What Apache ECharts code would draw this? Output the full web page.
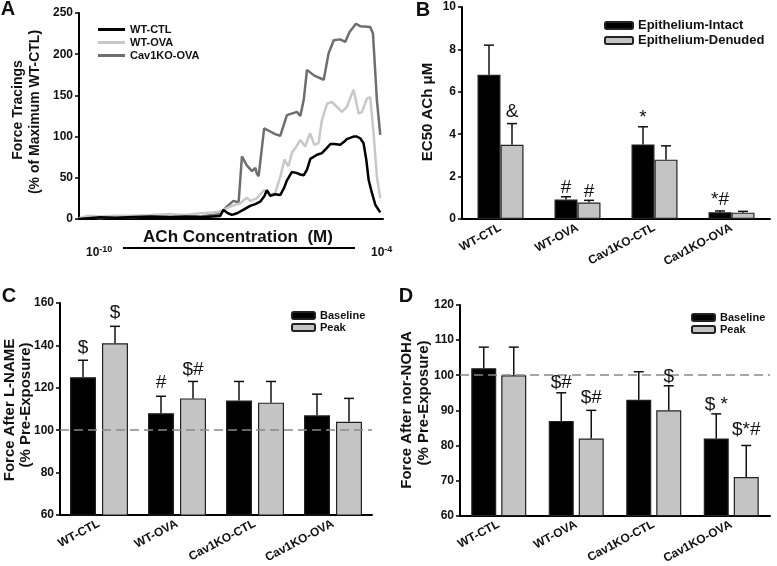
<!DOCTYPE html>
<html>
<head>
<meta charset="utf-8">
<script src="https://cdn.jsdelivr.net/npm/echarts@6/dist/echarts.min.js"></script>
<style>
  html, body { margin: 0; padding: 0; background: #fff; }
  #chart { width: 777px; height: 566px; }
</style>
</head>
<body>
<div id="chart"></div>
<script>
// panel A traces, x is position along the recording (0-100), y in % of max WT-CTL
const wtCtlX = [0, 3, 7, 12, 18, 24, 30, 35, 40, 44, 46.4, 47.5, 49, 50.3, 52, 54, 56.3, 58, 59.6, 61, 61.8, 62.9, 64.5, 66.2, 67.5, 68.4, 70, 71.5, 72.8, 73.9, 75, 76.1, 78.3, 79.9, 81.5, 82.7, 84, 85.9, 87, 88.1, 90.3, 91.4, 92.5, 93.6, 94.5, 95.3, 96.4, 97.5, 99.1];
const wtCtlY = [0, 1, 2, 1.5, 2.5, 3, 2, 3, 2, 3, 3.5, 11, 7, 5, 7, 11, 16, 18, 21, 28, 35, 28, 30, 29, 38, 47, 57, 56, 54, 53, 60, 73, 78, 80, 86, 91, 91, 90, 93, 97, 100, 100, 98, 92, 72, 47, 31, 17, 8];
const wtOvaX = [0, 3, 7, 12, 18, 24, 30, 35, 40, 44, 46.4, 47.5, 50.3, 53, 55.2, 56.3, 58.5, 59.6, 60.9, 62.9, 64.5, 66.2, 67.6, 68.9, 70, 71.5, 72.8, 74.4, 76, 77.4, 78.8, 79.9, 81.6, 83.2, 86.5, 88.1, 90.3, 92, 93.1, 94.7, 95.8, 96.9, 98, 99.1];
const wtOvaY = [1, 4, 3, 4, 4, 5, 6, 5, 7, 8, 9, 11, 16, 19, 26, 22, 25, 30, 35, 30, 31, 51, 72, 64, 80, 88, 96, 88, 104, 90, 92, 120, 140, 142, 130, 136, 157, 128, 130, 146, 148, 104, 51, 25];
const cavOvaX = [0, 3, 7, 12, 18, 24, 30, 35, 40, 44, 46.4, 48.6, 50.8, 52.5, 53.6, 55.2, 56.9, 58, 58.5, 59.1, 60.9, 62, 64.5, 66.2, 68.4, 71.7, 72.8, 73.9, 75, 77.4, 80.5, 82.1, 83.8, 85.9, 87.6, 89, 91.1, 92.5, 95.8, 96.7, 98, 99.1];
const cavOvaY = [0, 2, 1, 3, 2, 4, 3, 4, 3, 5, 6, 15, 22, 20, 76, 65, 58, 62, 55, 52, 110, 108, 103, 101, 126, 130, 125, 144, 181, 174, 169, 201, 217, 218, 215, 227, 237, 234, 233, 225, 144, 102];

// panels B-D
const groups = ['WT-CTL', 'WT-OVA', 'Cav1KO-CTL', 'Cav1KO-OVA'];
const ec50Intact = [6.8, 0.92, 3.52, 0.32];
const ec50IntactSem = [1.4, 0.13, 0.83, 0.06];
const ec50Denuded = [3.5, 0.78, 2.8, 0.3];
const ec50DenudedSem = [1.0, 0.1, 0.65, 0.06];
const lnameBase = [125, 108, 114, 107];
const lnameBaseSem = [8, 8, 9, 10];
const lnamePeak = [141, 115, 113, 104];
const lnamePeakSem = [8, 8, 10, 11];
const nohaBase = [102, 87, 93, 82];
const nohaBaseSem = [6, 8, 8, 7];
const nohaPeak = [100, 82, 90, 71];
const nohaPeakSem = [8, 8, 7, 9];

// significance marks: [group, bar (0 left / 1 right), y, text]
const marksB = [[0, 1, 5.05, '&'], [1, 0, 1.46, '#'], [1, 1, 1.27, '#'], [2, 0, 4.76, '*'], [3, 0, 0.9, '*#']];
const marksC = [[0, 0, 139, '$'], [0, 1, 155.3, '$'], [1, 0, 122.3, '#'], [1, 1, 128.4, '$#']];
const marksD = [[1, 0, 97.9, '$#'], [1, 1, 93.7, '$#'], [2, 1, 99.6, '$'], [3, 0, 91.7, '$ *'], [3, 1, 84.6, '$*#']];

const FONT = '"Liberation Sans", Arial, sans-serif';
const chart = echarts.init(document.getElementById('chart'));

function pairs(xs, ys) { return xs.map((x, i) => [x, ys[i]]); }

function errData(vals, sems) {
  return vals.map((v, i) => [i, v, v + sems[i]]);
}

function errSeries(idx, vals, sems, offset) {
  return {
    type: 'custom', xAxisIndex: idx, yAxisIndex: idx, silent: true, z: 5,
    data: errData(vals, sems),
    encode: { x: 0, y: [1, 2] },
    renderItem: function (params, api) {
      const p0 = api.coord([api.value(0), api.value(1)]);
      const p1 = api.coord([api.value(0), api.value(2)]);
      const x = p0[0] + offset;
      const st = { stroke: '#111', lineWidth: 1.5 };
      return {
        type: 'group', children: [
          { type: 'line', shape: { x1: x, y1: p0[1], x2: x, y2: p1[1] }, style: st },
          { type: 'line', shape: { x1: x - 5, y1: p1[1], x2: x + 5, y2: p1[1] }, style: st }
        ]
      };
    }
  };
}

function markSeries(idx, marks, offset) {
  return {
    type: 'custom', xAxisIndex: idx, yAxisIndex: idx, silent: true, z: 6,
    data: marks.map(m => [m[0], m[2], m[1]]),
    encode: { x: 0, y: 1 },
    renderItem: function (params, api) {
      const p = api.coord([api.value(0), api.value(1)]);
      const side = api.value(2);
      return {
        type: 'text',
        x: p[0] + (side ? offset : -offset), y: p[1],
        style: {
          text: marks[params.dataIndex][3], fill: '#111',
          font: '19px ' + FONT,
          align: 'center', verticalAlign: 'middle',
          textAlign: 'center', textVerticalAlign: 'middle'
        }
      };
    }
  };
}

function barSeries(name, idx, data, color, width, gap, dashed) {
  const s = {
    name: name, type: 'bar', xAxisIndex: idx, yAxisIndex: idx,
    data: data, barWidth: width, barGap: gap,
    itemStyle: { color: color, borderColor: '#222', borderWidth: 1.2 }
  };
  if (dashed) {
    s.markLine = {
      silent: true, symbol: 'none', label: { show: false },
      lineStyle: { color: '#888', width: 1.5, type: [9, 5] },
      data: [{ yAxis: 100 }]
    };
  }
  return s;
}

const yLabel = { color: '#111', fontWeight: 'bold', fontSize: 12, fontFamily: FONT };
const axisLine = { lineStyle: { color: '#000', width: 2 } };

function yAxis(idx, min, max, step) {
  return {
    type: 'value', gridIndex: idx, min: min, max: max, interval: step,
    axisLine: Object.assign({ show: true }, axisLine),
    axisTick: { show: true, length: 4, lineStyle: { color: '#000', width: 1.5 } },
    axisLabel: Object.assign({ margin: 6 }, yLabel),
    splitLine: { show: false }
  };
}

function catAxis(idx) {
  return {
    type: 'category', gridIndex: idx, data: groups,
    axisLine: axisLine, axisTick: { show: false },
    axisLabel: Object.assign({ rotate: 28, margin: 8, interval: 0 }, yLabel)
  };
}

function txt(str, x, y, size, rot) {
  return {
    type: 'text', x: x, y: y, rotation: rot || 0,
    style: {
      text: str, fill: '#111', font: 'bold ' + size + 'px ' + FONT,
      align: 'center', verticalAlign: 'middle',
      textAlign: 'center', textVerticalAlign: 'middle'
    }
  };
}

const R = Math.PI / 2;

const option = {
  animation: false,
  backgroundColor: '#fff',
  textStyle: { fontFamily: FONT },
  grid: [
    { left: 79, top: 13, width: 304, height: 206 },
    { left: 462, top: 7, width: 308, height: 212 },
    { left: 60, top: 303, width: 312, height: 212 },
    { left: 460, top: 305, width: 310, height: 212 }
  ],
  xAxis: [
    {
      type: 'value', gridIndex: 0, min: 0, max: 100,
      axisLine: axisLine, axisTick: { show: false },
      axisLabel: { show: false }, splitLine: { show: false }
    },
    catAxis(1), catAxis(2), catAxis(3)
  ],
  yAxis: [yAxis(0, 0, 250, 50), yAxis(1, 0, 10, 2), yAxis(2, 60, 160, 20), yAxis(3, 60, 120, 10)],
  legend: [
    {
      data: ['WT-CTL', 'WT-OVA', 'Cav1KO-OVA'], orient: 'vertical', left: 93, top: 19,
      icon: 'rect', itemWidth: 27, itemHeight: 3, itemGap: 2, selectedMode: false,
      textStyle: { fontSize: 11, fontWeight: 'bold', color: '#111', fontFamily: FONT }
    },
    {
      data: ['Epithelium-Intact', 'Epithelium-Denuded'], orient: 'vertical', left: 599, top: 14,
      itemWidth: 28, itemHeight: 7, itemGap: 2, selectedMode: false,
      textStyle: { fontSize: 13, fontWeight: 'bold', color: '#111', fontFamily: FONT }
    },
    {
      data: ['Baseline', 'Peak'], orient: 'vertical', left: 286, top: 305,
      itemWidth: 23, itemHeight: 7, itemGap: 1, selectedMode: false,
      textStyle: { fontSize: 11, fontWeight: 'bold', color: '#111', fontFamily: FONT }
    },
    {
      data: ['Baseline ', 'Peak '], orient: 'vertical', left: 686, top: 307,
      itemWidth: 23, itemHeight: 7, itemGap: 1, selectedMode: false,
      textStyle: { fontSize: 11, fontWeight: 'bold', color: '#111', fontFamily: FONT }
    }
  ],
  series: [
    { name: 'WT-CTL', type: 'line', xAxisIndex: 0, yAxisIndex: 0, symbol: 'none', data: pairs(wtCtlX, wtCtlY), lineStyle: { color: '#000', width: 2.5 }, itemStyle: { color: '#000' }, z: 4 },
    { name: 'WT-OVA', type: 'line', xAxisIndex: 0, yAxisIndex: 0, symbol: 'none', data: pairs(wtOvaX, wtOvaY), lineStyle: { color: '#c8c8c8', width: 2.5 }, itemStyle: { color: '#c8c8c8' }, z: 3 },
    { name: 'Cav1KO-OVA', type: 'line', xAxisIndex: 0, yAxisIndex: 0, symbol: 'none', data: pairs(cavOvaX, cavOvaY), lineStyle: { color: '#6e6e6e', width: 2.5 }, itemStyle: { color: '#6e6e6e' }, z: 2 },

    barSeries('Epithelium-Intact', 1, ec50Intact, '#000', 23, 0),
    barSeries('Epithelium-Denuded', 1, ec50Denuded, '#c4c4c4', 23, 0),
    errSeries(1, ec50Intact, ec50IntactSem, -11.5),
    errSeries(1, ec50Denuded, ec50DenudedSem, 11.5),
    markSeries(1, marksB, 11.5),

    barSeries('Baseline', 2, lnameBase, '#000', 26, '23%', true),
    barSeries('Peak', 2, lnamePeak, '#c4c4c4', 26, '23%'),
    errSeries(2, lnameBase, lnameBaseSem, -16),
    errSeries(2, lnamePeak, lnamePeakSem, 16),
    markSeries(2, marksC, 16),

    barSeries('Baseline ', 3, nohaBase, '#000', 25, '20%', true),
    barSeries('Peak ', 3, nohaPeak, '#c4c4c4', 25, '20%'),
    errSeries(3, nohaBase, nohaBaseSem, -15),
    errSeries(3, nohaPeak, nohaPeakSem, 15),
    markSeries(3, marksD, 15)
  ],
  graphic: [
    txt('A', 8, 9, 20), txt('B', 423, 10, 20), txt('C', 9, 296, 20), txt('D', 406, 296, 20),
    txt('Force Tracings', 18, 110, 14, R),
    txt('(% of Maximum WT-CTL)', 35, 112, 14, R),
    txt('EC50 ACh \u03bcM', 428, 112, 15, R),
    txt('Force After L-NAME', 10, 410, 15, R),
    txt('(% Pre-Exposure)', 26, 405, 15, R),
    txt('Force After nor-NOHA', 407, 410, 15, R),
    txt('(% Pre-Exposure)', 424, 403, 15, R),
    txt('ACh Concentration  (M)', 238, 237, 17),
    { type: 'line', shape: { x1: 123, y1: 248, x2: 355, y2: 248 }, style: { stroke: '#000', lineWidth: 2 } },
    {
      type: 'text', x: 86, y: 241,
      style: {
        text: '{b|10}{s|-10}', fill: '#111',
        rich: { b: { font: 'bold 12px ' + FONT, padding: [6, 0, 0, 0] }, s: { font: 'bold 9px ' + FONT } }
      }
    },
    {
      type: 'text', x: 371, y: 241,
      style: {
        text: '{b|10}{s|-4}', fill: '#111',
        rich: { b: { font: 'bold 12px ' + FONT, padding: [6, 0, 0, 0] }, s: { font: 'bold 9px ' + FONT } }
      }
    }
  ]
};

chart.setOption(option);
</script>
</body>
</html>
